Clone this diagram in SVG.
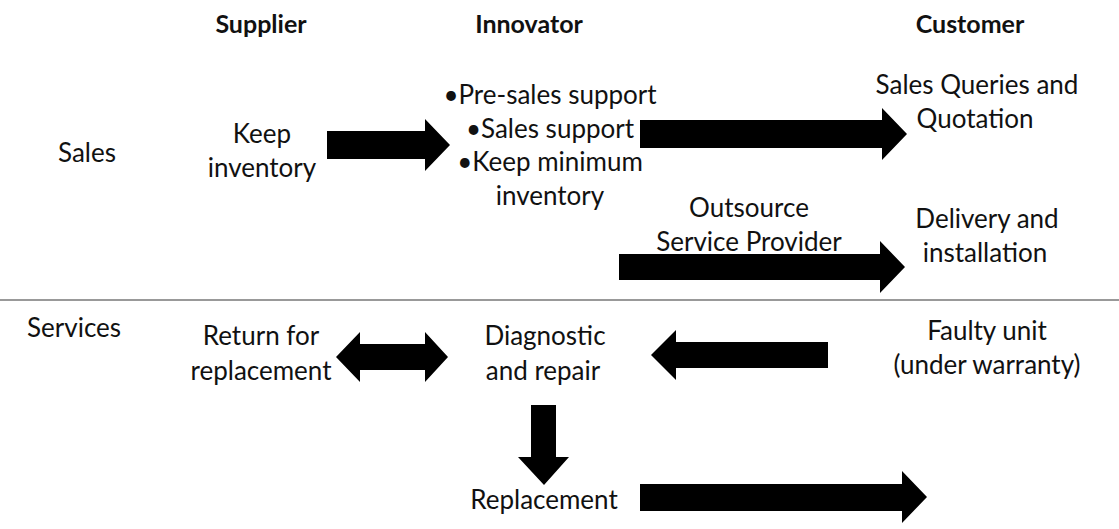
<svg xmlns="http://www.w3.org/2000/svg" width="1119" height="529" viewBox="0 0 1119 529">
<style>
text{font-family:Lato,"Liberation Sans",sans-serif;font-size:26px;fill:#111}
.h{font-weight:bold;font-size:25px}
.c{text-anchor:middle}
.a{fill:#000}
</style>
<rect width="1119" height="529" fill="#fff"/>
<line x1="0" y1="300" x2="1119" y2="300" stroke="#777" stroke-width="1.3"/>
<g id="headers">
<text class="h c" x="261" y="33">Supplier</text>
<text class="h c" x="529" y="33">Innovator</text>
<text class="h c" x="970" y="33">Customer</text>
</g>
<g id="row-sales"><text x="58" y="162">Sales</text></g>
<g id="row-services"><text x="27" y="337">Services</text></g>
<g id="keep-inventory"><text class="c" x="262" y="143">Keep</text><text class="c" x="262" y="177">inventory</text></g>
<g id="innovator-sales">
<text class="c" x="550" y="104">•Pre-sales support</text>
<text class="c" x="550" y="138">•Sales support</text>
<text class="c" x="550" y="171">•Keep minimum</text>
<text class="c" x="550" y="205">inventory</text>
</g>
<g id="sales-queries"><text class="c" x="977" y="94">Sales Queries and</text><text class="c" x="975" y="128">Quotation</text></g>
<g id="outsource"><text class="c" x="749" y="217">Outsource</text><text class="c" x="749" y="251">Service Provider</text></g>
<g id="delivery"><text class="c" x="987" y="228">Delivery and</text><text class="c" x="985" y="262">installation</text></g>
<g id="return"><text class="c" x="261" y="345">Return for</text><text class="c" x="261" y="380">replacement</text></g>
<g id="diagnostic"><text class="c" x="545" y="345">Diagnostic</text><text class="c" x="543" y="380">and repair</text></g>
<g id="faulty"><text class="c" x="987" y="340">Faulty unit</text><text class="c" x="987" y="374">(under warranty)</text></g>
<g id="replacement"><text class="c" x="544" y="509">Replacement</text></g>
<g id="connectors" class="a">
<polygon points="327,131 425,131 425,119 450,145 425,171 425,159 327,159"/>
<polygon points="640,120 882,120 882,108 907,134 882,160 882,148 640,148"/>
<polygon points="619,254 880,254 880,241 905,267 880,293 880,280 619,280"/>
<polygon points="336,357 360,332 360,344 425,344 425,332 448,357 425,382 425,370 360,370 360,382"/>
<polygon points="651,355 676,330 676,342 828,342 828,368 676,368 676,380"/>
<polygon points="531,405 556,405 556,457 569,457 544,485 518,457 531,457"/>
<polygon points="640,484 902,484 902,471 927,497 902,523 902,511 640,511"/>
</g>
</svg>
